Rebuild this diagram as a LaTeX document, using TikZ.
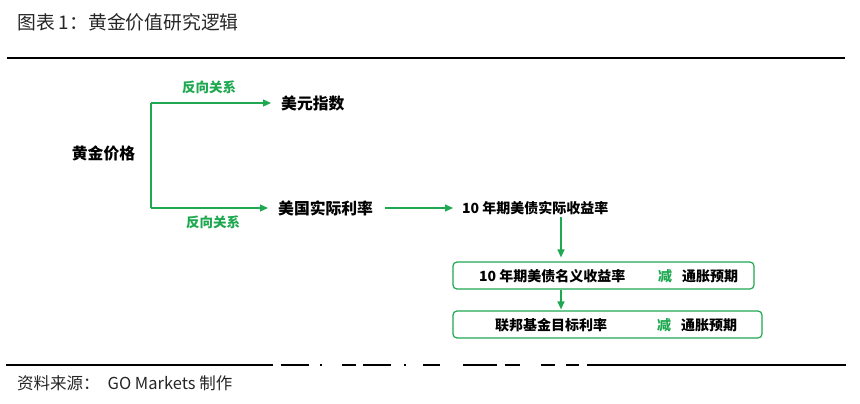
\documentclass[tikz,border=0pt]{standalone}
\usepackage{fontspec}
\setmainfont{Noto Sans CJK SC}
\usetikzlibrary{arrows.meta}
\definecolor{gogreen}{RGB}{30,168,80}
\tikzset{
	arr/.style={draw=gogreen, line width=1.2pt, -{Triangle[length=8pt,width=7pt]}},
	big/.style={inner sep=0pt, font=\bfseries\fontsize{15.8}{18}\selectfont},
	small/.style={inner sep=0pt, font=\bfseries\fontsize{14}{16}\selectfont},
	rel/.style={inner sep=0pt, text=gogreen, font=\bfseries\fontsize{13.5}{16}\selectfont},
	stepbox/.style={draw=gogreen, line width=1.2pt, rounded corners=4pt, minimum height=27pt, inner sep=0pt},
}
\begin{document}
\begin{tikzpicture}[x=1pt,y=-1pt]
	\useasboundingbox (0,0) rectangle (860,404);
	\node[anchor=west, inner sep=0pt, text=black!85, font=\fontsize{18.8}{22}\selectfont] (title) at (17,22) {图表 1：黄金价值研究逻辑};
	\draw[line width=1.2pt] (7,58) -- (845,58);
	\node[big] (gold) at (103.5,153) {黄金价格};
	\node[big, anchor=west] (usd) at (281,103) {美元指数};
	\node[big, anchor=west] (rate) at (278,208) {美国实际利率};
	\node[small, anchor=west] (real) at (462,208) {10 年期美债实际收益率};
	\node[rel] (relup) at (209,87) {反向关系};
	\node[rel] (reldown) at (213,222) {反向关系};
	\coordinate (forktop) at (151,103);
	\coordinate (forkbot) at (151,208);
	\draw[gogreen, line width=1.2pt] (forktop) -- (forkbot);
	\draw[arr, shorten >=10pt] (forktop) -- (usd.west);
	\draw[arr, shorten >=10pt] (forkbot) -- (rate.west);
	\draw[arr, shorten <=12pt, shorten >=9pt] (rate.east) -- (real.west);
	\node[stepbox, minimum width=301pt] (nombox) at (603.5,275.5) {};
	\node[stepbox, minimum width=309pt] (fedbox) at (607.5,324.5) {};
	\node[small, anchor=west] (nom) at (479,276) {10 年期美债名义收益率};
	\node[small, anchor=west, text=gogreen] (minusa) at (658,276) {减};
	\node[small, anchor=west] (infla) at (682,276) {通胀预期};
	\node[small, anchor=west] (fed) at (495,325) {联邦基金目标利率};
	\node[small, anchor=west, text=gogreen] (minusb) at (657,325) {减};
	\node[small, anchor=west] (inflb) at (681,325) {通胀预期};
	\coordinate (drop) at (561,217);
	\draw[arr, shorten >=4pt] (drop) -- (drop |- nombox.north);
	\draw[arr, shorten >=1pt] (drop |- nombox.south) -- (drop |- fedbox.north);
	\foreach \a/\b in {6/273,281/309,320/322,342/356,363/391,404/406,423/440,463/497,505/520,541/555,566/579,587/846}
	{
		\draw[line width=1.2pt] (\a,365) -- (\b,365);
	}
	\node[anchor=west, inner sep=0pt, text=black!85, font=\fontsize{16.5}{19}\selectfont] (source) at (17,383) {资料来源：\hspace{8pt}GO Markets 制作};
\end{tikzpicture}
\end{document}
